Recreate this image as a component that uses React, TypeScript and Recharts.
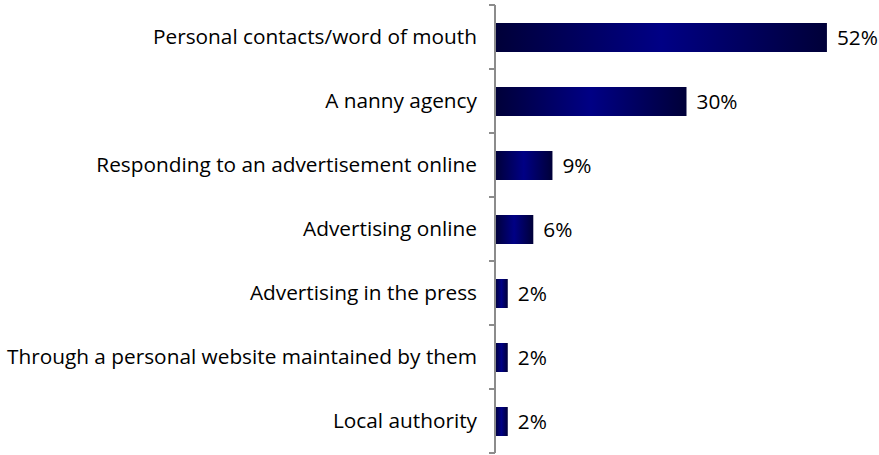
import React from 'react';
import { BarChart, Bar, XAxis, YAxis, LabelList } from 'recharts';

const categories = [
  'Personal contacts/word of mouth',
  'A nanny agency',
  'Responding to an advertisement online',
  'Advertising online',
  'Advertising in the press',
  'Through a personal website maintained by them',
  'Local authority',
];
const shares = [52, 30, 9, 6, 2, 2, 2];

const data = categories.map((name, i) => ({ name, value: shares[i] }));

const FONT = '"Open Sans", sans-serif';
const FONT_SIZE = 20.8;
const BAND = 64;

const CategoryTick = (props: any) => {
  const { x, y, payload, index } = props;
  const axisX = x + 6;
  return (
    <g>
      <line x1={axisX - 6} x2={axisX} y1={y - BAND / 2} y2={y - BAND / 2} stroke="#8c8c8c" strokeWidth={2} />
      {index === categories.length - 1 && (
        <line x1={axisX - 6} x2={axisX} y1={y + BAND / 2} y2={y + BAND / 2} stroke="#8c8c8c" strokeWidth={2} />
      )}
      <text
        x={axisX - 18}
        y={y}
        dy={7}
        textAnchor="end"
        fill="#000"
        fontSize={FONT_SIZE}
        fontFamily={FONT}
      >
        {payload.value}
      </text>
    </g>
  );
};

export default function App() {
  return (
    <div style={{ position: 'absolute', left: 0, top: 0 }}>
      <BarChart
        width={879}
        height={455}
        data={data}
        layout="vertical"
        margin={{ top: 5, right: 1, bottom: 2, left: 0 }}
      >
        <defs>
          <linearGradient id="navyGrad" x1="0" y1="0" x2="1" y2="0">
            <stop offset="0%" stopColor="#000038" />
            <stop offset="50%" stopColor="#000085" />
            <stop offset="100%" stopColor="#000038" />
          </linearGradient>
        </defs>
        <XAxis type="number" domain={[0, 60]} hide />
        <YAxis
          type="category"
          dataKey="name"
          width={495}
          axisLine={{ stroke: '#8c8c8c', strokeWidth: 2 }}
          tickLine={false}
          tickMargin={0}
          tick={<CategoryTick />}
          interval={0}
        />
        <Bar dataKey="value" fill="url(#navyGrad)" barSize={29} isAnimationActive={false}>
          <LabelList
            dataKey="value"
            position="right"
            offset={10}
            formatter={(v: any) => `${v}%`}
            fill="#000"
            fontSize={FONT_SIZE}
            fontFamily={FONT}
          />
        </Bar>
      </BarChart>
    </div>
  );
}
